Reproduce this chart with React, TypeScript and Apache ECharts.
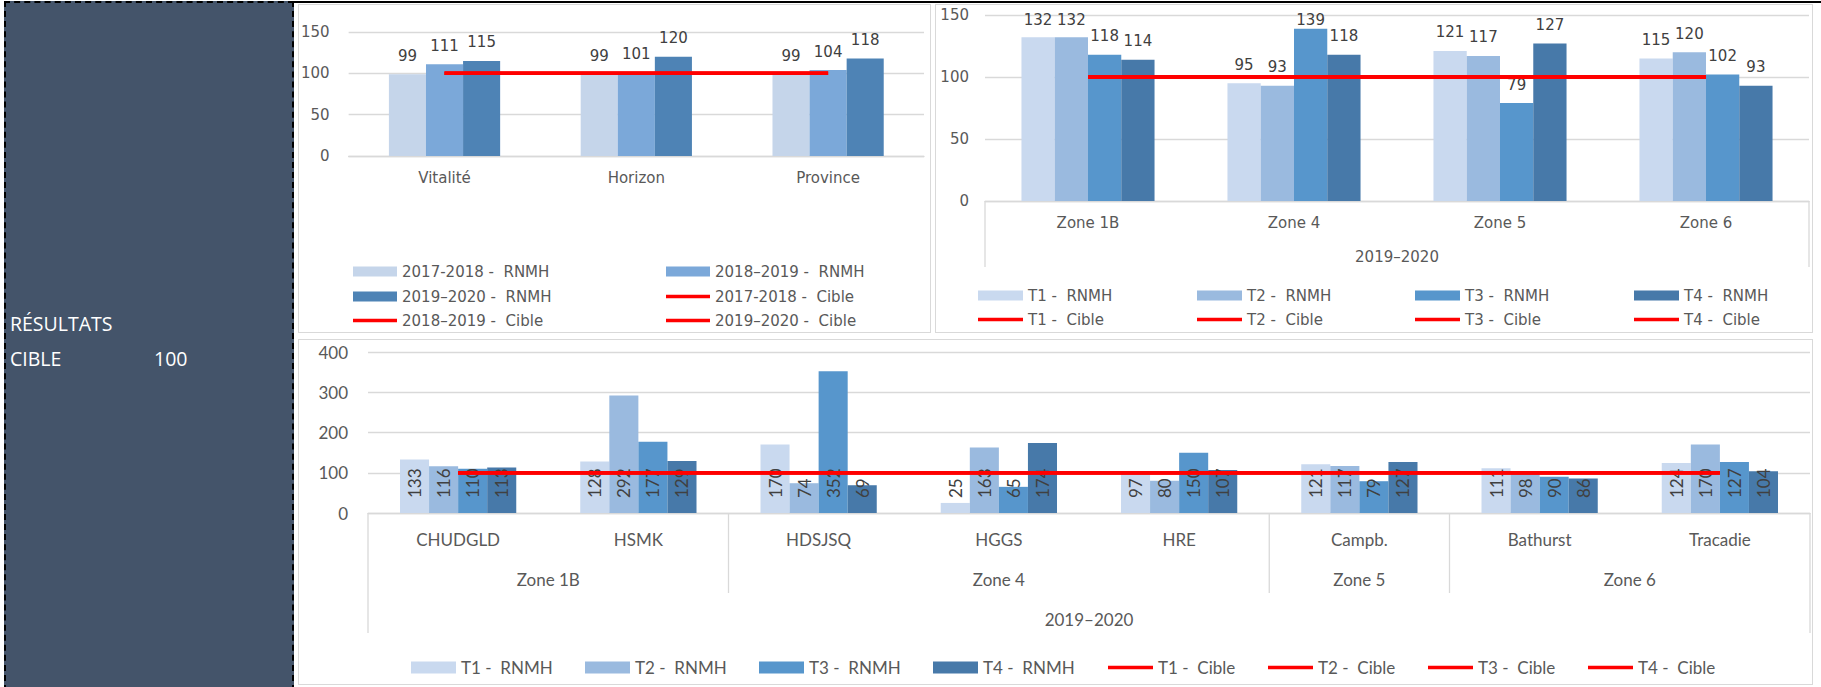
import React, { useEffect, useRef } from "react";
import * as echarts from "echarts";

// ---------- DATA ----------
const TARGET_LABEL = "100";
const TL_CATEGORIES = ["Vitalité", "Horizon", "Province"];
const TL_BAR_NAMES = ["2017-2018 -  RNMH", "2018–2019 -  RNMH", "2019–2020 -  RNMH"];
const TL_LINE_NAMES = ["2017-2018 -  Cible", "2018–2019 -  Cible", "2019–2020 -  Cible"];
const TL_2017_2018 = [99, 99, 99];
const TL_2018_2019 = [111, 101, 104];
const TL_2019_2020 = [115, 120, 118];
const TL_TARGET = [100, 100, 100];

const TR_CATEGORIES = ["Zone 1B", "Zone 4", "Zone 5", "Zone 6"];
const T_BAR_NAMES = ["T1 -  RNMH", "T2 -  RNMH", "T3 -  RNMH", "T4 -  RNMH"];
const T_LINE_NAMES = ["T1 -  Cible", "T2 -  Cible", "T3 -  Cible", "T4 -  Cible"];
const TR_T1 = [132, 95, 121, 115];
const TR_T2 = [132, 93, 117, 120];
const TR_T3 = [118, 139, 79, 102];
const TR_T4 = [114, 118, 127, 93];
const TR_TARGET = [100, 100, 100, 100];
const PERIOD = "2019–2020";

const B_CATEGORIES = ["CHUDGLD", "HSMK", "HDSJSQ", "HGGS", "HRE", "Campb.", "Bathurst", "Tracadie"];
const B_ZONES = ["Zone 1B", "Zone 4", "Zone 5", "Zone 6"];
const B_ZONE_SIZES = [2, 3, 1, 2];
const B_T1 = [133, 128, 170, 25, 97, 121, 111, 124];
const B_T2 = [116, 292, 74, 163, 80, 117, 98, 170];
const B_T3 = [110, 177, 352, 65, 150, 79, 90, 127];
const B_T4 = [113, 129, 69, 174, 107, 127, 86, 104];
const B_TARGET = [100, 100, 100, 100, 100, 100, 100, 100];

// ---------- STYLE ----------
const TL_COLORS = ["#C5D5EA", "#7BA8D9", "#4E83B5"];
const T_COLORS = ["#C9D9EF", "#9ABADF", "#5796CC", "#4779A9"];
const RED = "#FF0000";
const GRID_COLOR = "#D9D9D9";
const AXIS_TEXT = "#595959";
const LABEL_TEXT = "#404040";
const TOP_FONT = "'DejaVu Sans', 'Liberation Sans', Arial, sans-serif";
const BOT_FONT = "Lato, 'Open Sans', sans-serif";

function Chart({ box, option }: { box: { x: number; y: number; w: number; h: number }; option: any }) {
  const ref = useRef<HTMLDivElement>(null);
  useEffect(() => {
    if (!ref.current) return;
    const chart = echarts.init(ref.current, undefined, { renderer: "svg" });
    chart.setOption(option);
    return () => chart.dispose();
  }, []);
  return (
    <>
      <div
        style={{
          position: "absolute",
          left: box.x,
          top: box.y,
          width: box.w,
          height: box.h,
          boxSizing: "border-box",
          border: `1.5px solid ${GRID_COLOR}`,
          background: "#fff",
        }}
      />
      <div ref={ref} style={{ position: "absolute", left: box.x, top: box.y, width: box.w, height: box.h }} />
    </>
  );
}

function legendItem(name: string, left: number, top: number, font: string, size: number, iconW: number, iconH: number, rect: boolean) {
  return {
    data: [rect ? { name, icon: "rect" } : { name, icon: "rect", itemStyle: { color: RED } }],
    left,
    top: rect ? top : top,
    padding: 0,
    itemGap: 0,
    itemWidth: iconW,
    itemHeight: rect ? iconH : 3.5,
    selectedMode: false,
    textStyle: { fontFamily: font, fontSize: size, color: AXIS_TEXT },
  };
}

function yAxis(max: number, interval: number, font: string, size: number, margin: number) {
  return {
    type: "value",
    min: 0,
    max,
    interval,
    axisLine: { show: false },
    axisTick: { show: false },
    axisLabel: { color: AXIS_TEXT, fontFamily: font, fontSize: size, margin },
    splitLine: { lineStyle: { color: GRID_COLOR, width: 1.3 } },
  };
}

function redLine(name: string, data: number[]) {
  return {
    type: "line",
    name,
    data,
    symbol: "none",
    showSymbol: false,
    z: 5,
    silent: true,
    itemStyle: { color: RED },
    lineStyle: { color: RED, width: 3.5 },
  };
}

// keep labels inside the chart area, as the spreadsheet does
const clampTop = (minTop: number) => (p: any) => {
  const top = p.labelRect.y;
  return top < minTop ? { dy: minTop - top } : {};
};

// ---------- Top-left ----------
const TL_BOX = { x: 298, y: 4, w: 633, h: 329 };
const tlBars = [TL_2017_2018, TL_2018_2019, TL_2019_2020];
const tlLegendPos = [
  [55, 260], [368, 260],
  [55, 285], [368, 285],
  [55, 309], [368, 309],
];
const tlLegendNames = [TL_BAR_NAMES[0], TL_BAR_NAMES[1], TL_BAR_NAMES[2], TL_LINE_NAMES[0], TL_LINE_NAMES[1], TL_LINE_NAMES[2]];
const tlOption = {
  animation: false,
  textStyle: { fontFamily: TOP_FONT },
  grid: { left: 50, top: 28, width: 576, height: 124 },
  xAxis: {
    type: "category",
    data: TL_CATEGORIES,
    axisLine: { lineStyle: { color: GRID_COLOR, width: 1.3 } },
    axisTick: { show: false },
    axisLabel: { color: AXIS_TEXT, fontFamily: TOP_FONT, fontSize: 15, margin: 14 },
  },
  yAxis: yAxis(150, 50, TOP_FONT, 15, 19),
  legend: tlLegendNames.map((n, i) => legendItem(n, tlLegendPos[i][0], tlLegendPos[i][1], TOP_FONT, 15, 44, 10, i < 3)),
  series: [
    ...tlBars.map((d, i) => ({
      type: "bar",
      name: TL_BAR_NAMES[i],
      data: d,
      barGap: "0%",
      barCategoryGap: "42%",
      itemStyle: { color: TL_COLORS[i] },
      label: { show: true, position: "top", distance: 11, color: LABEL_TEXT, fontFamily: TOP_FONT, fontSize: 15 },
    })),
    ...TL_LINE_NAMES.map((n) => redLine(n, TL_TARGET)),
  ],
};

// ---------- Top-right ----------
const TR_BOX = { x: 935, y: 4, w: 878, h: 329 };
const TR_GRID = { left: 50, top: 11, width: 824, height: 186 };
const trBars = [TR_T1, TR_T2, TR_T3, TR_T4];
const trLegendLeft = [43, 262, 480, 699];
const trAxisY = TR_GRID.top + TR_GRID.height;
const trOption = {
  animation: false,
  textStyle: { fontFamily: TOP_FONT },
  grid: TR_GRID,
  xAxis: {
    type: "category",
    data: TR_CATEGORIES,
    axisLine: { lineStyle: { color: GRID_COLOR, width: 1.3 } },
    axisTick: { show: false },
    axisLabel: { color: AXIS_TEXT, fontFamily: TOP_FONT, fontSize: 15, margin: 14 },
    name: PERIOD,
    nameLocation: "middle",
    nameGap: 48,
    nameTextStyle: { color: AXIS_TEXT, fontFamily: TOP_FONT, fontSize: 15 },
  },
  yAxis: yAxis(150, 50, TOP_FONT, 15, 16),
  legend: [
    ...T_BAR_NAMES.map((n, i) => legendItem(n, trLegendLeft[i], 284, TOP_FONT, 15, 45, 10, true)),
    ...T_LINE_NAMES.map((n, i) => legendItem(n, trLegendLeft[i], 308, TOP_FONT, 15, 45, 10, false)),
  ],
  labelLayout: clampTop(8),
  graphic: [0, 1].map((k) => ({
    type: "line",
    silent: true,
    shape: {
      x1: TR_GRID.left + k * TR_GRID.width,
      y1: trAxisY,
      x2: TR_GRID.left + k * TR_GRID.width,
      y2: trAxisY + 66,
    },
    style: { stroke: GRID_COLOR, lineWidth: 1.3 },
  })),
  series: [
    ...trBars.map((d, i) => ({
      type: "bar",
      name: T_BAR_NAMES[i],
      data: d,
      barGap: "0%",
      barCategoryGap: "35.4%",
      itemStyle: { color: T_COLORS[i] },
      labelLayout: clampTop(8),
      label: { show: true, position: "top", distance: 11, color: LABEL_TEXT, fontFamily: TOP_FONT, fontSize: 15 },
    })),
    ...T_LINE_NAMES.map((n) => redLine(n, TR_TARGET)),
  ],
};

// ---------- Bottom ----------
const B_BOX = { x: 298, y: 339, w: 1515, h: 346 };
const B_GRID = { left: 70, top: 13, width: 1442, height: 161 };
const bBars = [B_T1, B_T2, B_T3, B_T4];
const bLegendLeft = [113, 287, 461, 635, 810, 970, 1130, 1290];
const bAxisY = B_GRID.top + B_GRID.height;
const catW = B_GRID.width / B_CATEGORIES.length;
const zoneCentres: Record<string, string> = {};
const zoneBounds: number[] = [0];
{
  let acc = 0;
  B_ZONES.forEach((z, i) => {
    zoneCentres[String(acc + B_ZONE_SIZES[i] / 2)] = z;
    acc += B_ZONE_SIZES[i];
    zoneBounds.push(acc);
  });
}
const bSeparators = zoneBounds.map((b, i) => {
  const outer = i === 0 || i === zoneBounds.length - 1;
  const x = B_GRID.left + b * catW;
  return {
    type: "line",
    silent: true,
    shape: { x1: x, y1: bAxisY, x2: x, y2: bAxisY + (outer ? 120 : 80) },
    style: { stroke: GRID_COLOR, lineWidth: 1.3 },
  };
});
const bOption = {
  animation: false,
  textStyle: { fontFamily: BOT_FONT },
  grid: B_GRID,
  xAxis: [
    {
      type: "category",
      data: B_CATEGORIES,
      axisLine: { lineStyle: { color: GRID_COLOR, width: 1.3 } },
      axisTick: { show: false },
      axisLabel: { color: AXIS_TEXT, fontFamily: BOT_FONT, fontSize: 17, margin: 18 },
      name: PERIOD,
      nameLocation: "middle",
      nameGap: 98,
      nameTextStyle: { color: AXIS_TEXT, fontFamily: BOT_FONT, fontSize: 17 },
    },
    {
      type: "value",
      min: 0,
      max: B_CATEGORIES.length,
      interval: 0.5,
      position: "bottom",
      axisLine: { show: false },
      axisTick: { show: false },
      splitLine: { show: false },
      axisLabel: {
        color: AXIS_TEXT,
        fontFamily: BOT_FONT,
        fontSize: 17,
        margin: 58,
        showMinLabel: true,
        showMaxLabel: true,
        formatter: (v: number) => zoneCentres[String(v)] || "",
      },
    },
  ],
  yAxis: yAxis(400, 100, BOT_FONT, 17, 20),
  legend: [
    ...T_BAR_NAMES.map((n, i) => legendItem(n, bLegendLeft[i], 320, BOT_FONT, 17, 45, 12, true)),
    ...T_LINE_NAMES.map((n, i) => legendItem(n, bLegendLeft[i + 4], 320, BOT_FONT, 17, 45, 12, false)),
  ],
  graphic: bSeparators,
  series: [
    ...bBars.map((d, i) => ({
      type: "bar",
      name: T_BAR_NAMES[i],
      data: d,
      xAxisIndex: 0,
      barGap: "0%",
      barCategoryGap: "35.5%",
      itemStyle: { color: T_COLORS[i] },
      label: {
        show: true,
        position: "insideBottom",
        distance: 15,
        rotate: 90,
        align: "left",
        verticalAlign: "middle",
        color: LABEL_TEXT,
        fontFamily: BOT_FONT,
        fontSize: 17,
      },
    })),
    ...T_LINE_NAMES.map((n) => ({ ...redLine(n, B_TARGET), xAxisIndex: 0 })),
  ],
};

export default function App() {
  const panelText: React.CSSProperties = {
    position: "absolute",
    color: "#fff",
    fontFamily: "'Open Sans', 'Noto Sans', sans-serif",
    fontSize: 19.5,
    lineHeight: "35px",
    whiteSpace: "pre",
  };
  return (
    <div style={{ position: "absolute", left: 0, top: 0, width: 1821, height: 687, background: "#fff", overflow: "hidden" }}>
      <div
        style={{
          position: "absolute",
          left: 4,
          top: 1,
          width: 290,
          height: 690,
          boxSizing: "border-box",
          border: "2.5px dashed #000",
          background: "#44546A",
        }}
      />
      <div style={{ ...panelText, left: 10, top: 306 }}>RÉSULTATS</div>
      <div style={{ ...panelText, left: 10, top: 341 }}>CIBLE</div>
      <div style={{ ...panelText, left: 154, top: 341 }}>{TARGET_LABEL}</div>
      <div style={{ position: "absolute", left: 294, top: 1, width: 1527, height: 2, background: "#000" }} />
      <Chart box={TL_BOX} option={tlOption} />
      <Chart box={TR_BOX} option={trOption} />
      <Chart box={B_BOX} option={bOption} />
    </div>
  );
}
